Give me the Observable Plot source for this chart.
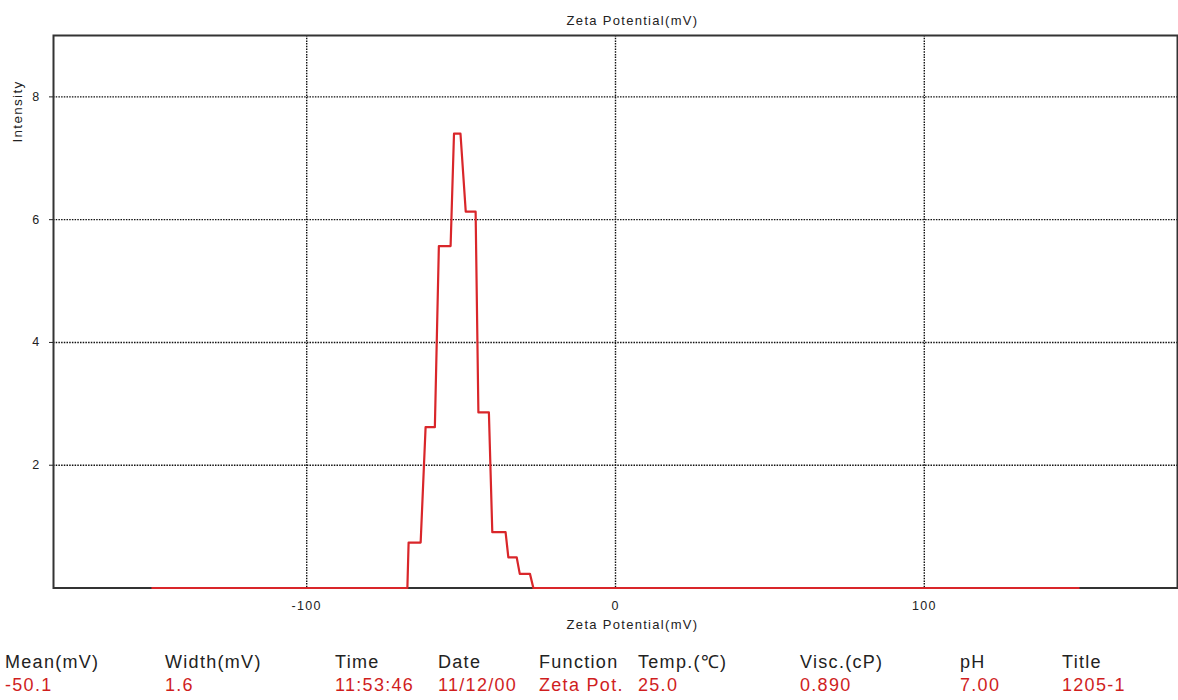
<!DOCTYPE html>
<html>
<head>
<meta charset="utf-8">
<script src="https://cdn.jsdelivr.net/npm/d3@7"></script>
<script src="https://cdn.jsdelivr.net/npm/@observablehq/plot@0.6"></script>
<style>
  html, body { margin: 0; padding: 0; background: #fff; }
  body { width: 1178px; height: 700px; overflow: hidden; font-family: "Liberation Sans", Arial, sans-serif; }
  #chart svg text { letter-spacing: 1.3px; }
  #stats { position: relative; width: 1178px; height: 55px; font-size: 18px; letter-spacing: 1.3px; }
  #stats span { position: absolute; white-space: nowrap; line-height: 20px; }
  .hdr { color: #222; top: 7px; }
  .val { color: #d01e1e; top: 30px; }
</style>
</head>
<body>
<div id="chart"></div>
<div id="stats"></div>
<script>
// Zeta potential distribution (mV) and intensity
const zeta = [-150, -67.4, -67.0, -63.1, -61.5, -58.5, -57.2, -53.4, -52.3, -50.2, -48.5, -45.3, -44.4, -41.0, -39.9, -35.6, -34.7, -32.0, -31.0, -27.7, -26.6, 150];
const intensity = [0, 0, 0.74, 0.74, 2.62, 2.62, 5.57, 5.57, 7.40, 7.40, 6.13, 6.13, 2.86, 2.86, 0.91, 0.91, 0.50, 0.50, 0.23, 0.23, 0, 0];

const xTicks = [-100, 0, 100];
const yTicks = [2, 4, 6, 8];

const statHeaders = ["Mean(mV)", "Width(mV)", "Time", "Date", "Function", "Temp.(\u2103)", "Visc.(cP)", "pH", "Title"];
const statValues = ["-50.1", "1.6", "11:53:46", "11/12/00", "Zeta Pot.", "25.0", "0.890", "7.00", "1205-1"];

const data = zeta.map((z, i) => ({z, v: intensity[i]}));

const chart = Plot.plot({
  width: 1178,
  height: 645,
  marginLeft: 53,
  marginRight: 1,
  marginTop: 35,
  marginBottom: 57.5,
  style: {fontFamily: "Liberation Sans, Arial, sans-serif", fontSize: "12px", color: "#222", background: "#fff"},
  x: {domain: [-182, 182]},
  y: {domain: [0, 9]},
  marks: [
    Plot.ruleX(xTicks, {stroke: "#111", strokeWidth: 1.4, strokeDasharray: "1.5,1.2"}),
    Plot.ruleY(yTicks, {stroke: "#111", strokeWidth: 1.4, strokeDasharray: "1.5,1.2"}),
    Plot.frame({stroke: "#333", strokeWidth: 2}),
    Plot.axisX({ticks: xTicks, tickSize: 0, tickPadding: 13, tickFormat: d => String(d), label: null, fontSize: 12.5}),
    Plot.axisY({ticks: yTicks, tickSize: 4, tickPadding: 9, label: null, fontSize: 12.5}),
    Plot.line(data, {x: "z", y: "v", stroke: "#d9262a", strokeWidth: 2.2, curve: "linear"}),
    Plot.text(["Zeta Potential(mV)"], {frameAnchor: "top", dx: 17, dy: -20, fontSize: 13, fill: "#222"}),
    Plot.text(["Zeta Potential(mV)"], {frameAnchor: "bottom", dx: 17, dy: 41, fontSize: 13, fill: "#222"}),
    Plot.text(["Intensity"], {frameAnchor: "top-left", dx: -36, dy: 76, rotate: -90, textAnchor: "middle", lineAnchor: "middle", fontSize: 13.5, fill: "#222"})
  ]
});
document.getElementById("chart").appendChild(chart);

// layout of the stats table columns (pixel left edges)
const colLeft = [5, 165, 335, 438, 539, 638, 800, 960, 1062];
const stats = document.getElementById("stats");
statHeaders.forEach((h, i) => {
  const s = document.createElement("span");
  s.className = "hdr"; s.textContent = h; s.style.left = colLeft[i] + "px";
  stats.appendChild(s);
  const v = document.createElement("span");
  v.className = "val"; v.textContent = statValues[i]; v.style.left = colLeft[i] + "px";
  stats.appendChild(v);
});
</script>
</body>
</html>
